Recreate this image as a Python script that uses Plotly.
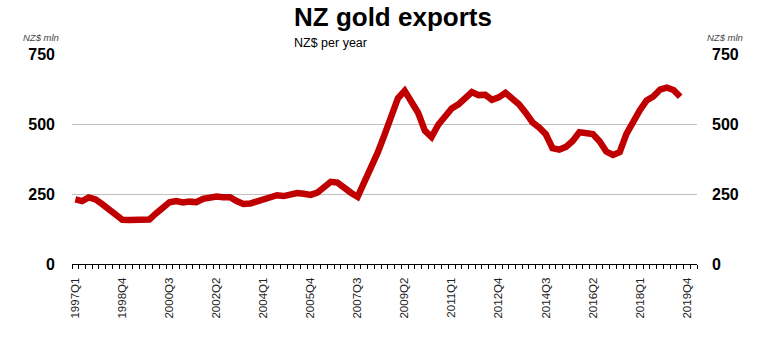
import plotly.graph_objects as go

# Categories: quarters 1997Q1 .. 2020Q1 (axis categories)
quarters = [f"{y}Q{q}" for y in range(1997, 2021) for q in range(1, 5)][:93]

# NZ gold exports, NZ$ mln per year (annual running total), 1997Q1 .. 2019Q3
gold_exports = [
    231, 225, 238, 231, 214, 197, 173, 158, 157, 157,
    157, 159, 181, 201, 221, 225, 220, 223, 221, 233,
    239, 241, 239, 239, 225, 215, 216, 224, 231, 240,
    246, 243, 249, 254, 251, 247, 255, 275, 294, 291,
    271, 255, 240, 289, 345, 399, 462, 528, 593, 619,
    576, 541, 477, 454, 498, 528, 556, 571, 596, 615,
    604, 605, 587, 596, 612, 594, 571, 541, 507, 488,
    464, 414, 409, 419, 440, 471, 468, 465, 439, 402,
    390, 400, 465, 514, 550, 585, 599, 624, 631, 622,
    598,
]

tick_labels = quarters[::7]
tick_positions = [quarters.index(t) for t in tick_labels]
y_ticks = [0, 250, 500, 750]

FONT = "Liberation Sans, Arial, sans-serif"

x_idx = [quarters.index(q) for q in quarters[:len(gold_exports)]]

fig = go.Figure()
fig.add_trace(go.Scatter(
    x=x_idx, y=gold_exports, mode="lines",
    line=dict(color="#c00000", width=6.5),
    hoverinfo="skip", showlegend=False,
))
# invisible trace for right axis
fig.add_trace(go.Scatter(x=[0], y=[0], yaxis="y2", mode="markers",
                         marker=dict(opacity=0), showlegend=False, hoverinfo="skip"))

W, H = 760, 338
L, R, T, B = 72, 63, 54, 74
pw, ph = W - L - R, H - T - B

def px(x):
    return (x - L) / pw

def py(y):
    return (H - B - y) / ph

YMAX = 751

fig.update_layout(
    width=W, height=H,
    margin=dict(l=L, r=R, t=T - 0.3, b=B, pad=0),
    paper_bgcolor="white", plot_bgcolor="white",
    font=dict(family=FONT, color="#000000"),
    xaxis=dict(
        range=[-0.5, len(quarters) - 0.5],
        tickmode="array", tickvals=tick_positions, ticktext=tick_labels,
        tickangle=-90, ticks="", ticklabelstandoff=8,
        tickfont=dict(size=11.5, color="#222222", family=FONT),
        showgrid=False, zeroline=False,
        showline=True, linecolor="#000000", linewidth=1,
        minor=dict(ticks="outside", tickmode="linear", tick0=-0.5, dtick=1,
                   ticklen=4, tickcolor="#000000", tickwidth=1, showgrid=False),
    ),
    yaxis=dict(
        range=[0, YMAX], tickmode="array", tickvals=y_ticks,
        ticks="", ticklabelstandoff=16,
        tickfont=dict(size=16, family=FONT, weight="bold", color="#000000"),
        showgrid=True, gridcolor="#c0c0c0", gridwidth=1,
        zeroline=False, showline=False,
    ),
    yaxis2=dict(
        range=[0, YMAX], tickmode="array", tickvals=y_ticks,
        overlaying="y", side="right",
        ticks="", ticklabelstandoff=14,
        tickfont=dict(size=16, family=FONT, weight="bold", color="#000000"),
        showgrid=False, zeroline=False, showline=False,
    ),
    annotations=[
        dict(text="<b>NZ gold exports</b>", xref="paper", yref="paper",
             x=px(292), y=py(17.5), xanchor="left", yanchor="middle",
             showarrow=False,
             font=dict(size=26, family=FONT, color="#000000")),
        dict(text="NZ$ per year", xref="paper", yref="paper",
             x=px(292), y=py(43.5), xanchor="left", yanchor="middle",
             showarrow=False, font=dict(size=12.5, family=FONT, color="#000000")),
        dict(text="<i>NZ$ mln</i>", xref="paper", yref="paper",
             x=px(41), y=py(37), xanchor="center", yanchor="middle",
             showarrow=False, font=dict(size=9.5, family=FONT, color="#444444")),
        dict(text="<i>NZ$ mln</i>", xref="paper", yref="paper",
             x=px(725), y=py(37), xanchor="center", yanchor="middle",
             showarrow=False, font=dict(size=9.5, family=FONT, color="#444444")),
    ],
)

fig.write_html("out.html", config={"displayModeBar": False},
               post_script="document.body.style.margin='0';")
